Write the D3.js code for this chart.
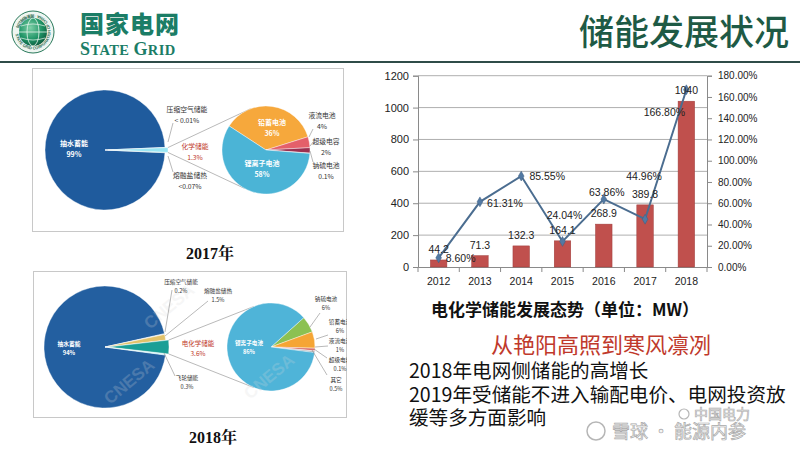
<!DOCTYPE html>
<html><head><meta charset="utf-8">
<script src="https://cdn.jsdelivr.net/npm/d3@7"></script>
<style>
body{margin:0;background:#fff;}
svg{display:block;font-family:"Liberation Sans","Noto Sans CJK SC",sans-serif;}
.cjk{font-family:"Noto Sans CJK SC",sans-serif;}
</style>
</head><body>
<svg id="c" width="800" height="450"></svg>
<script>
// ---------------- DATA ----------------
const years = ["2012","2013","2014","2015","2016","2017","2018"];
const capacityMW = [44.2, 71.3, 132.3, 164.1, 268.9, 389.8, 1040];
const growthPct = [8.60, 61.31, 85.55, 24.04, 63.86, 44.96, 166.80];
const leftTicks = [0, 200, 400, 600, 800, 1000, 1200];
const rightTicks = [0, 20, 40, 60, 80, 100, 120, 140, 160, 180];

const big2017Names = ["抽水蓄能", "压缩空气储能", "化学储能", "熔融盐储热"];
const big2017Values = [98.62, 0.01, 1.3, 0.07];
const big2017Labels = ["99%", "< 0.01%", "1.3%", "<0.07%"];
const chem2017Names = ["铅蓄电池", "液流电池", "超级电容", "钠硫电池", "锂离子电池"];
const chem2017Values = [36, 4, 2, 0.1, 58];
const chem2017Labels = ["36%", "4%", "2%", "0.1%", "58%"];

const big2018Names = ["抽水蓄能", "压缩空气储能", "熔融盐储热", "电化学储能", "飞轮储能"];
const big2018Values = [94, 0.2, 1.5, 3.6, 0.3];
const big2018Labels = ["94%", "0.2%", "1.5%", "3.6%", "0.3%"];
const chem2018Names = ["钠硫电池", "铅蓄电池", "液流电池", "超级电容", "其它", "锂离子电池"];
const chem2018Values = [6, 6, 1, 0.1, 0.5, 86];
const chem2018Labels = ["6%", "6%", "1%", "0.1%", "0.5%", "86%"];

// ---------------- SETUP ----------------
const svg = d3.select("#c");
const rad = d => d * Math.PI / 180;
const pt = (cx, cy, r, a) => [cx + r * Math.sin(a), cy - r * Math.cos(a)];

// ---------------- HEADER ----------------
const defs = svg.append("defs");
const gg = defs.append("radialGradient").attr("id", "globe").attr("cx", "40%").attr("cy", "35%").attr("r", "70%");
gg.append("stop").attr("offset", "0%").attr("stop-color", "#7fd0a8");
gg.append("stop").attr("offset", "60%").attr("stop-color", "#1f9466");
gg.append("stop").attr("offset", "100%").attr("stop-color", "#0c5a3e");

const logo = svg.append("g");
logo.append("circle").attr("cx", 33).attr("cy", 32).attr("r", 21).attr("fill", "#eef5f1").attr("stroke", "#2b7a5c").attr("stroke-width", 1);
logo.append("circle").attr("cx", 33).attr("cy", 32).attr("r", 14).attr("fill", "url(#globe)");
logo.append("ellipse").attr("cx", 33).attr("cy", 32).attr("rx", 6).attr("ry", 14).attr("fill", "none").attr("stroke", "#e8f5ee").attr("stroke-width", 0.8);
logo.append("line").attr("x1", 19).attr("x2", 47).attr("y1", 32).attr("y2", 32).attr("stroke", "#e8f5ee").attr("stroke-width", 0.8);
logo.append("path").attr("d", "M21,26 Q33,22 45,26 M21,38 Q33,42 45,38").attr("fill", "none").attr("stroke", "#e8f5ee").attr("stroke-width", 0.7);
defs.append("path").attr("id", "ring").attr("d", "M33,32 m-17.5,0 a17.5,17.5 0 1,0 35,0 a17.5,17.5 0 1,0 -35,0");
logo.append("text").attr("font-size", 4).attr("font-weight", "bold").attr("fill", "#2b6a50")
  .append("textPath").attr("href", "#ring").attr("startOffset", "2%").text("STATE GRID CORPORATION OF CHINA · 国家电网公司");

svg.append("text").attr("class", "cjk").attr("x", 80).attr("y", 33).attr("font-size", 24).attr("font-weight", 900)
  .attr("fill", "#1b7d66").attr("letter-spacing", 1).text("国家电网");
const sg = svg.append("text").attr("x", 80).attr("y", 55).attr("font-family", "Liberation Serif, serif").attr("font-weight", "bold")
  .attr("fill", "#1b7d66").attr("letter-spacing", 0.4);
sg.append("tspan").attr("font-size", 18).text("S");
sg.append("tspan").attr("font-size", 14.5).text("TATE ");
sg.append("tspan").attr("font-size", 18).text("G");
sg.append("tspan").attr("font-size", 14.5).text("RID");

svg.append("text").attr("class", "cjk").attr("x", 789).attr("y", 45).attr("text-anchor", "end").attr("font-size", 35)
  .attr("font-weight", 500).attr("fill", "#1e5a45").text("储能发展状况");
svg.append("line").attr("x1", 0).attr("x2", 800).attr("y1", 62).attr("y2", 62).attr("stroke", "#2f4c48").attr("stroke-width", 2);

// ---------------- PIE HELPERS ----------------
function drawPie(g, cx, cy, r, values, colors, centerIdx, centerDeg, explodeIdx, explode) {
  const total = d3.sum(values);
  let before = 0;
  for (let i = 0; i < centerIdx; i++) before += values[i];
  const frac = (before + values[centerIdx] / 2) / total;
  const start = rad(centerDeg) - frac * 2 * Math.PI;
  const arcs = d3.pie().sort(null).value(d => d).startAngle(start).endAngle(start + 2 * Math.PI)(values);
  const arc = d3.arc().innerRadius(0).outerRadius(r);
  g.selectAll(null).data(arcs).join("path")
    .attr("d", arc)
    .attr("fill", (d, i) => colors[i])
    .attr("stroke", "#fff").attr("stroke-width", 0.4)
    .attr("transform", (d, i) => {
      if (i !== explodeIdx) return `translate(${cx},${cy})`;
      const m = (d.startAngle + d.endAngle) / 2;
      return `translate(${cx + explode * Math.sin(m)},${cy - explode * Math.cos(m)})`;
    });
  return arcs;
}
function label(g, x, y, lines, size, fill, weight) {
  const t = g.append("text").attr("class", "cjk").attr("text-anchor", "middle").attr("font-size", size).attr("fill", fill).attr("font-weight", weight || 400);
  lines.forEach((s, i) => t.append("tspan").attr("x", x).attr("y", y + i * size * 1.6).text(s));
}
function leader(g, pts) {
  g.append("path").attr("d", d3.line()(pts)).attr("fill", "none").attr("stroke", "#8a8a8a").attr("stroke-width", 0.6);
}

// ---------------- 2017 PANEL ----------------
const p17 = svg.append("g");
p17.append("rect").attr("x", 32.5).attr("y", 68.5).attr("width", 311).attr("height", 163).attr("fill", "#fff").attr("stroke", "#c8c8c8");
{
  const cx = 105, cy = 150, r = 60, sx = 266, sy = 150, sr = 44;
  const arcs = drawPie(p17, cx, cy, r, big2017Values, ["#1f5b9d", "#3aa0c0", "#9ae6f3", "#17737c"], 2, 90, 2, 3);
  const ch = arcs[2];
  const a = pt(cx + 3, cy, r, ch.startAngle), b = pt(cx + 3, cy, r, ch.endAngle);
  leader(p17, [a, pt(sx, sy, sr, rad(339))]);
  leader(p17, [b, pt(sx, sy, sr, rad(209))]);
  drawPie(p17, sx, sy, sr, chem2017Values, ["#f6a83c", "#e4606a", "#9c3050", "#5a4a5a", "#4bb4d6"], 0, 303 + 64.8, -1, 0);

  label(p17, cx - 31, cy - 4, [big2017Names[0], big2017Labels[0]], 7, "#fff", 700);
  label(p17, 187, 112, [big2017Names[1], big2017Labels[1]], 6.8, "#333");
  label(p17, 195, 149, [big2017Names[2], big2017Labels[2]], 6.8, "#c0392b");
  label(p17, 190, 178, [big2017Names[3], big2017Labels[3]], 6.8, "#333");
  leader(p17, [[173, 123], [168, 142]]);
  leader(p17, [[168, 156], [173, 172]]);

  label(p17, 272, 125, [chem2017Names[0], chem2017Labels[0]], 7, "#fff", 700);
  label(p17, 262, 166, [chem2017Names[4], chem2017Labels[4]], 7, "#fff", 700);
  label(p17, 322, 118, [chem2017Names[1], chem2017Labels[1]], 6.8, "#333");
  label(p17, 326, 144, [chem2017Names[2], chem2017Labels[2]], 6.8, "#333");
  label(p17, 326, 168, [chem2017Names[3], chem2017Labels[3]], 6.8, "#333");
  leader(p17, [[309, 137], [313, 129]]);
  leader(p17, [[310, 146], [314, 141]]);
  leader(p17, [[310, 151], [313, 162]]);
}
svg.append("text").attr("x", 210).attr("y", 259).attr("text-anchor", "middle").attr("font-family", "Liberation Serif, Noto Serif CJK SC, serif")
  .attr("font-weight", "bold").attr("font-size", 16).attr("fill", "#111").text("2017年");

// ---------------- 2018 PANEL ----------------
defs.append("clipPath").attr("id", "clip18").append("rect").attr("x", 33).attr("y", 271).attr("width", 314).attr("height", 147);
const p18o = svg.append("g");
p18o.append("rect").attr("x", 33.5).attr("y", 271.5).attr("width", 313).attr("height", 146).attr("fill", "#fff").attr("stroke", "#c8c8c8");
const p18 = p18o.append("g").attr("clip-path", "url(#clip18)");
{
  const cx = 105, cy = 347, r = 61, sx = 271, sy = 347, sr = 44;
  const arcs = drawPie(p18, cx, cy, r, big2018Values, ["#235fa0", "#cfd8dc", "#e2c26a", "#1a9f96", "#b8eef5"], 3, 90, 3, 3);
  const ch = arcs[3];
  const a = pt(cx + 3, cy, r, ch.startAngle), b = pt(cx + 3, cy, r, ch.endAngle);
  leader(p18, [a, pt(sx, sy, sr, rad(337))]);
  leader(p18, [b, pt(sx, sy, sr, rad(203))]);
  drawPie(p18, sx, sy, sr, chem2018Values, ["#8cc152", "#f5a535", "#d9706a", "#b04060", "#9aa0a6", "#4fb4d8"], 0, 59, -1, 0);

  // faint CNESA watermarks
  [[110, 405], [250, 400], [150, 330]].forEach(([x, y]) => {
    p18.append("text").attr("x", x).attr("y", y).attr("font-size", 17).attr("font-weight", "bold")
      .attr("fill", "#d8d8d8").attr("opacity", 0.22).attr("transform", `rotate(-40,${x},${y})`).text("CNESA");
  });

  label(p18, 69, 346, [big2018Names[0], big2018Labels[0]], 5.8, "#fff", 700);
  label(p18, 181, 284, [big2018Names[1], big2018Labels[1]], 5.6, "#333");
  label(p18, 218, 293, [big2018Names[2], big2018Labels[2]], 5.6, "#333");
  label(p18, 198, 346, [big2018Names[3], big2018Labels[3]], 6.5, "#c0392b");
  label(p18, 187, 380, [big2018Names[4], big2018Labels[4]], 5.6, "#333");
  leader(p18, [[172, 290], [165, 332]]);
  leader(p18, [[208, 301], [165, 336]]);
  leader(p18, [[164, 353], [175, 376]]);

  label(p18, 249, 345, [chem2018Names[5], chem2018Labels[5]], 5.6, "#fff", 700);
  label(p18, 326, 301, [chem2018Names[0], chem2018Labels[0]], 5.6, "#333");
  label(p18, 340, 324, [chem2018Names[1], chem2018Labels[1]], 5.6, "#333");
  label(p18, 340, 343, [chem2018Names[2], chem2018Labels[2]], 5.6, "#333");
  label(p18, 340, 362, [chem2018Names[3], chem2018Labels[3]], 5.6, "#333");
  label(p18, 336, 382, [chem2018Names[4], chem2018Labels[4]], 5.6, "#333");
  leader(p18, [[320, 313], [310, 327]]);
  leader(p18, [[328, 335], [316, 339]]);
  leader(p18, [[328, 346], [315, 347]]);
  leader(p18, [[327, 358], [314, 349]]);
  leader(p18, [[327, 375], [312, 350]]);
}
svg.append("text").attr("x", 213).attr("y", 443).attr("text-anchor", "middle").attr("font-family", "Liberation Serif, Noto Serif CJK SC, serif")
  .attr("font-weight", "bold").attr("font-size", 16).attr("fill", "#111").text("2018年");

// ---------------- BAR + LINE CHART ----------------
const X0 = 418, X1 = 707, Y0 = 267, Y1 = 75.7;
const xb = d3.scaleBand().domain(years).range([X0, X1]).padding(0);
const yL = d3.scaleLinear().domain([0, 1200]).range([Y0, Y1]);
const yR = d3.scaleLinear().domain([0, 180]).range([Y0, Y1]);
const ch = svg.append("g");

ch.append("g").selectAll("line").data(leftTicks.slice(1)).join("line")
  .attr("x1", X0).attr("x2", X1).attr("y1", d => yL(d)).attr("y2", d => yL(d))
  .attr("stroke", "#9a9a9a").attr("stroke-width", 0.8);

const axL = ch.append("g").attr("transform", `translate(${X0},0)`)
  .call(d3.axisLeft(yL).tickValues(leftTicks).tickSize(5).tickPadding(4).tickFormat(d3.format("d")));
const axR = ch.append("g").attr("transform", `translate(${X1},0)`)
  .call(d3.axisRight(yR).tickValues(rightTicks).tickSize(5).tickPadding(6).tickFormat(d => d.toFixed(2) + "%"));
const axB = ch.append("g").attr("transform", `translate(0,${Y0})`)
  .call(d3.axisBottom(xb).tickSize(0).tickPadding(11));
[axL, axR, axB].forEach(a => {
  a.selectAll("path.domain").attr("stroke", "#8a8a8a");
  a.selectAll(".tick line").attr("stroke", "#8a8a8a");
  a.selectAll("text").attr("fill", "#222").attr("font-family", "Liberation Sans, sans-serif");
});
axL.selectAll("text").attr("font-size", 11);
axR.selectAll("text").attr("font-size", 10);
axB.selectAll("text").attr("font-size", 10.5);
ch.append("g").selectAll("line").data(years.concat(["end"])).join("line")
  .attr("x1", d => d === "end" ? X1 : xb(d)).attr("x2", d => d === "end" ? X1 : xb(d))
  .attr("y1", Y0).attr("y2", Y0 + 5).attr("stroke", "#8a8a8a");

const bw = xb.bandwidth() * 0.4;
ch.append("g").selectAll("rect").data(capacityMW).join("rect")
  .attr("x", (d, i) => xb(years[i]) + (xb.bandwidth() - bw) / 2)
  .attr("width", bw)
  .attr("y", d => yL(d)).attr("height", d => Y0 - yL(d))
  .attr("fill", "#c0504d").attr("stroke", "#9e3c3a").attr("stroke-width", 0.5);

const cxOf = i => xb(years[i]) + xb.bandwidth() / 2;
ch.append("path").datum(growthPct)
  .attr("d", d3.line().x((d, i) => cxOf(i)).y(d => yR(d)))
  .attr("fill", "none").attr("stroke", "#4b6d90").attr("stroke-width", 2);
ch.append("g").selectAll("path").data(growthPct).join("path")
  .attr("d", d3.symbol(d3.symbolDiamond, 28))
  .attr("transform", (d, i) => `translate(${cxOf(i)},${yR(d)})`)
  .attr("fill", "#5279a3").attr("stroke", "#3f5f80").attr("stroke-width", 0.5);

ch.append("g").selectAll("text").data(capacityMW).join("text")
  .attr("x", (d, i) => cxOf(i)).attr("y", d => yL(d) - 7)
  .attr("text-anchor", "middle").attr("font-size", 10.5).attr("fill", "#222")
  .text(d => d);

const growthLabelOffsets = [[22, 0], [25, 1], [26, 0.5], [2, -26], [3, -7], [-1, -43], [-22, 23]];
ch.append("g").selectAll("text").data(growthPct).join("text")
  .attr("x", (d, i) => cxOf(i) + growthLabelOffsets[i][0])
  .attr("y", (d, i) => yR(d) + growthLabelOffsets[i][1])
  .attr("dy", "0.35em").attr("text-anchor", "middle").attr("font-size", 10.5).attr("fill", "#222")
  .text(d => d.toFixed(2) + "%");

// ---------------- TEXT BLOCK ----------------
svg.append("text").attr("class", "cjk").attr("x", 565).attr("y", 316).attr("text-anchor", "middle")
  .attr("font-size", 17).attr("font-weight", 700).attr("fill", "#111").text("电化学储能发展态势（单位：MW）");
svg.append("text").attr("class", "cjk").attr("x", 601).attr("y", 353).attr("text-anchor", "middle")
  .attr("font-size", 22).attr("fill", "#c0392b").text("从艳阳高照到寒风凛冽");
["2018年电网侧储能的高增长", "2019年受储能不进入输配电价、电网投资放", "缓等多方面影响"].forEach((s, i) => {
  svg.append("text").attr("class", "cjk").attr("x", 409).attr("y", 378 + i * 23.5)
    .attr("font-size", 19.6).attr("fill", "#111").text(s);
});

// ---------------- WATERMARKS ----------------
const wm = svg.append("g").attr("opacity", 0.85);
wm.append("circle").attr("cx", 684).attr("cy", 414).attr("r", 5).attr("fill", "none").attr("stroke", "#aaa").attr("stroke-width", 1.2);
wm.append("text").attr("class", "cjk").attr("x", 694).attr("y", 419).attr("font-size", 14)
  .attr("fill", "#f0f0f0").attr("stroke", "#9a9a9a").attr("stroke-width", 0.6).text("中国电力");
wm.append("circle").attr("cx", 596).attr("cy", 431).attr("r", 9).attr("fill", "none").attr("stroke", "#aaa").attr("stroke-width", 1.5);
wm.append("text").attr("class", "cjk").attr("x", 612).attr("y", 438).attr("font-size", 18)
  .attr("fill", "#f4f4f4").attr("stroke", "#9a9a9a").attr("stroke-width", 0.7).text("雪球 · 能源内参");
</script>
</body></html>
